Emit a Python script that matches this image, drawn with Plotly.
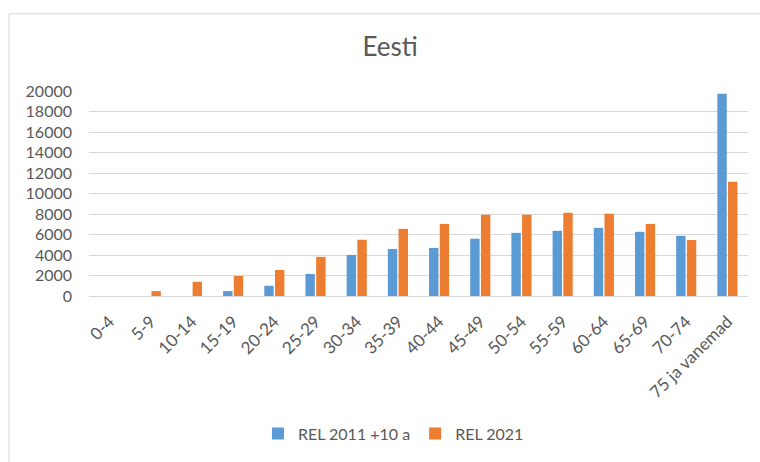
import plotly.graph_objects as go

categories = ["0-4", "5-9", "10-14", "15-19", "20-24", "25-29", "30-34", "35-39",
              "40-44", "45-49", "50-54", "55-59", "60-64", "65-69", "70-74", "75 ja vanemad"]
rel_2011_plus10 = [0, 0, 0, 480, 1000, 2150, 4010, 4590, 4690, 5590, 6160, 6360, 6650, 6260, 5870, 19740]
rel_2021 = [0, 480, 1380, 1960, 2540, 3820, 5490, 6550, 7030, 7930, 7930, 8120, 8030, 7030, 5460, 11140]

font_family = "Lato, 'Open Sans', sans-serif"
gray = "#595959"

fig = go.Figure()
fig.add_trace(go.Bar(x=categories, y=rel_2011_plus10, name="REL 2011 +10 a",
                     marker=dict(color="#5B9BD5", line=dict(width=0))))
fig.add_trace(go.Bar(x=categories, y=rel_2021, name="REL 2021",
                     marker=dict(color="#ED7D31", line=dict(width=0))))

fig.update_layout(
    width=760, height=462,
    margin=dict(l=89, r=12, t=91, b=164),
    paper_bgcolor="white", plot_bgcolor="white",
    barmode="group", bargap=0.48, bargroupgap=0.12,
    title=dict(text="Eesti", x=0.457, xref="paper", xanchor="center",
               y=1 - 47 / 462, yref="container", yanchor="middle",
               font=dict(family=font_family, size=26, color=gray)),
    font=dict(family=font_family, color=gray, size=16),
    xaxis=dict(tickangle=-45, showgrid=False, showline=True, linecolor="#d9d9d9",
               linewidth=1, ticks="", ticklabelstandoff=8,
               tickfont=dict(size=17, color=gray)),
    yaxis=dict(range=[0, 20000], dtick=2000, tickformat="d", showgrid=True,
               gridcolor="#d9d9d9", gridwidth=1, zeroline=False, showline=False,
               ticks="", ticklabelstandoff=16, tickfont=dict(size=16, color=gray)),
    legend=dict(orientation="h", x=0.462, xanchor="center", y=-0.671, yanchor="middle",
                font=dict(size=16, color=gray), itemwidth=30),
    showlegend=True,
    shapes=[dict(type="rect", xref="paper", yref="paper",
                 x0=-0.1214, x1=1.3, y0=-2.0, y1=1.3768,
                 line=dict(color="#d9d9d9", width=1), fillcolor="rgba(0,0,0,0)",
                 layer="below")],
)

fig.write_html("out.html")
